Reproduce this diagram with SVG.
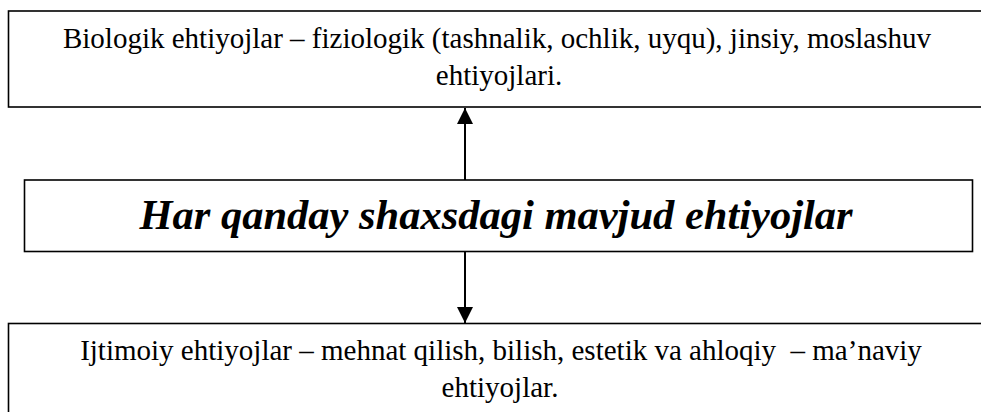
<svg xmlns="http://www.w3.org/2000/svg" width="981" height="412" viewBox="0 0 981 412">
<style>
.box{fill:#fff;stroke:#000;stroke-width:1.6}
.t{font-family:"Liberation Serif","Times New Roman",serif;font-size:29px;fill:#000;text-anchor:middle;white-space:pre}
.m{font-family:"Liberation Serif","Times New Roman",serif;font-size:42.5px;font-weight:bold;font-style:italic;fill:#000;text-anchor:middle}
.c{stroke:#000;stroke-width:2;fill:none}
</style>
<defs>
<marker id="ah" viewBox="0 0 16 16" refX="16" refY="8" markerWidth="16" markerHeight="16" markerUnits="userSpaceOnUse" orient="auto">
<path d="M0,0 L16,8 L0,16 Z" fill="#000"/>
</marker>
</defs>
<g id="connectors">
<line class="c" x1="465" y1="180" x2="465" y2="108" marker-end="url(#ah)"/>
<line class="c" x1="465" y1="251" x2="465" y2="323" marker-end="url(#ah)"/>
</g>
<g id="biologik">
<rect class="box" x="8.5" y="11" width="980" height="96"/>
<text class="t" x="497" y="48">Biologik ehtiyojlar – fiziologik (tashnalik, ochlik, uyqu), jinsiy, moslashuv</text>
<text class="t" x="499" y="85">ehtiyojlari.</text>
</g>
<g id="markaz">
<rect class="box" x="24.5" y="180" width="948" height="71.5"/>
<text class="m" x="496" y="229">Har qanday shaxsdagi mavjud ehtiyojlar</text>
</g>
<g id="ijtimoiy">
<rect class="box" x="8.5" y="323.5" width="980" height="100"/>
<text class="t" x="501" y="360" xml:space="preserve">Ijtimoiy ehtiyojlar – mehnat qilish, bilish, estetik va ahloqiy  – ma’naviy</text>
<text class="t" x="500" y="397">ehtiyojlar.</text>
</g>
</svg>
